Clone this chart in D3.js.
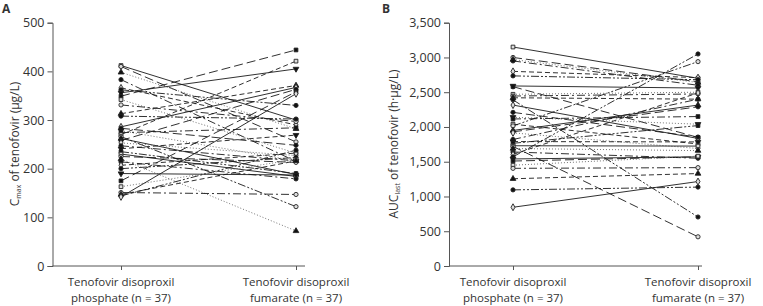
<!DOCTYPE html>
<html><head><meta charset="utf-8">
<script src="https://cdn.jsdelivr.net/npm/d3@7"></script>
<style>body{margin:0;background:#fff}svg{display:block}text{font-family:"Open Sans",sans-serif;fill:#333}</style>
</head><body><svg id="c" width="763" height="306"></svg>
<script>
// ---- data ----
const categories = ["Tenofovir disoproxil|phosphate (n = 37)", "Tenofovir disoproxil|fumarate (n = 37)"];
const cmaxPhosphate = [412,410,398,383,366,362,356,349,342,331,313,308,286,283,278,274,270,266,262,258,253,247,241,235,230,225,220,214,207,200,190,175,163,151,147,144,142];
const cmaxFumarate  = [300,255,282,215,290,330,405,444,232,297,371,302,367,248,216,284,421,122,188,363,227,216,269,190,184,213,72,179,232,223,187,358,219,147,216,238,354];
const aucPhosphate = [3150,3000,2970,2950,2800,2735,2590,2580,2470,2445,2420,2390,2315,2210,2140,2115,2040,2015,1950,1930,1915,1820,1790,1765,1730,1720,1690,1640,1605,1570,1540,1510,1450,1405,1255,1095,845];
const aucFumarate  = [2700,2650,2640,2600,2710,2680,2560,1850,2500,2475,2400,705,1835,1855,2040,2150,1755,2940,2315,2290,1690,2400,1785,2020,1725,420,1660,1550,2490,3050,1570,1570,1580,1415,1330,1135,1215];
const cmaxTicks = [0,100,200,300,400,500];
const aucTicks = [0,500,1000,1500,2000,2500,3000,3500];

// ---- styles (per subject) ----
const dashes = [null,"9,4","1,2","8,3,2,3","5,3","8,2,2,2,2,2"];
const markerTypes = ["square-o","circle","triangledown","circle-o","diamond-o","square","triangle","circle"];

const svg = d3.select("#c");

function marker(g, type, x, y){
  const open = type.endsWith("-o");
  const base = type.replace("-o","");
  let sym = d3.symbolCircle, size = 14, rot = 0;
  if(base==="square"){sym=d3.symbolSquare; size=14;}
  if(base==="triangle"){sym=d3.symbolTriangle; size=14;}
  if(base==="triangledown"){sym=d3.symbolTriangle; size=14; rot=180;}
  if(base==="diamond"){sym=d3.symbolDiamond; size=14;}
  g.append("path").attr("d", d3.symbol(sym, size)())
    .attr("transform", `translate(${x},${y}) rotate(${rot})`)
    .attr("fill", open ? "#ddd" : "#111").attr("stroke","#222").attr("stroke-width",0.9);
}

function panel(opts){
  const {axisX, xEnd, cat0, cat1, yMax, ticks, left, right, label, letter, letterX, titleX, fmt} = opts;
  const g = svg.append("g");
  const y = d3.scaleLinear().domain([0,yMax]).range([266,22.7]);
  const x = d3.scalePoint().domain(categories).range([cat0,cat1]);
  // y axis
  const ya = g.append("g").attr("transform",`translate(${axisX},0)`)
    .call(d3.axisLeft(y).tickValues(ticks).tickSize(5).tickPadding(3).tickFormat(fmt));
  ya.select(".domain").attr("stroke","#555");
  ya.selectAll(".tick line").attr("stroke","#555");
  ya.selectAll("text").style("font-size","12.5px").attr("fill","#333").style("font-family","'Open Sans',sans-serif");
  // x axis
  const xa = g.append("g").attr("transform","translate(0,266)")
    .call(d3.axisBottom(x).tickSize(4).tickFormat(""));
  xa.select(".domain").attr("d",`M${axisX},0H${xEnd}`).attr("stroke","#555");
  xa.selectAll(".tick line").attr("stroke","#555");
  categories.forEach(c=>{
    const parts=c.split("|");
    const t=g.append("text").attr("x",x(c)).attr("text-anchor","middle").style("font-size","11.5px");
    t.append("tspan").attr("x",x(c)).attr("y",286).text(parts[0]);
    t.append("tspan").attr("x",x(c)).attr("y",302).text(parts[1]);
  });
  // lines
  const lg = g.append("g");
  left.forEach((v,i)=>{
    const d = dashes[i%dashes.length];
    lg.append("line").attr("x1",x(categories[0])).attr("y1",y(v))
      .attr("x2",x(categories[1])).attr("y2",y(right[i]))
      .attr("stroke", d==="1,2" ? "#666" : "#1a1a1a").attr("stroke-width",0.9)
      .attr("stroke-dasharray",d);
  });
  left.forEach((v,i)=>{
    const m = markerTypes[(i*3)%markerTypes.length];
    marker(lg,m,x(categories[0]),y(v));
    marker(lg,m,x(categories[1]),y(right[i]));
  });
  // y title
  const tt = g.append("text").attr("transform",`translate(${titleX},144) rotate(-90)`)
    .attr("text-anchor","middle").style("font-size","12px");
  tt.append("tspan").text(label[0]);
  tt.append("tspan").attr("dy",2).style("font-size","7px").text(label[1]);
  tt.append("tspan").attr("dy",-2).text(label[2]);
  g.append("text").attr("x",letterX).attr("y",13).style("font-size","12px").style("font-weight","bold").attr("fill","#222").text(letter);
}

panel({axisX:52.5, xEnd:305, cat0:121, cat1:296, yMax:500, ticks:cmaxTicks, left:cmaxPhosphate, right:cmaxFumarate,
  label:["C","max"," of tenofovir (μg/L)"], letter:"A", letterX:2, titleX:19, fmt:d3.format("d")});
panel({axisX:449, xEnd:702, cat0:513, cat1:698, yMax:3500, ticks:aucTicks, left:aucPhosphate, right:aucFumarate,
  label:["AUC","last"," of tenofovir (h·μg/L)"], letter:"B", letterX:382, titleX:398, fmt:d3.format(",")});
</script></body></html>
